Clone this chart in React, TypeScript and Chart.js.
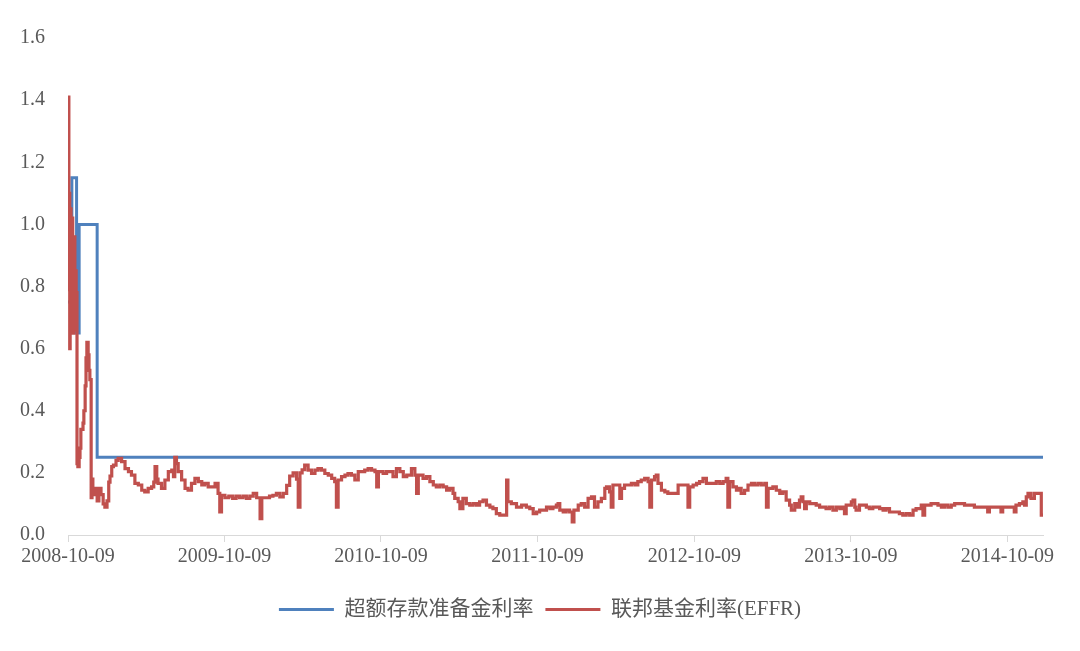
import { useEffect, useRef } from 'react';
import { Chart, registerables } from 'chart.js';
import type { Scale } from 'chart.js';

Chart.register(...registerables);

const axisFont  = "'Liberation Serif', 'Noto Sans CJK SC', serif";
const textColor = '#595959';
const axisColor = '#d9d9d9';
const blue      = '#4F81BD';
const red       = '#C0504D';

// x is counted in days from 2008-10-09
const lastDay     = 2274;
const xTickDays   = [0, 365, 730, 1095, 1461, 1826, 2191];
const xTickLabels = ['2008-10-09', '2009-10-09', '2010-10-09', '2011-10-09', '2012-10-09', '2013-10-09', '2014-10-09'];

const seriesNames = ['超额存款准备金利率', '联邦基金利率(EFFR)'];

const ioerDays  = [0, 9, 20, 26, 68, 2274];
const ioerRates = [0.75, 1.15, 0.65, 1.0, 0.25, 0.25];

// [day, rate]
const effrPoints: [number, number][] = [
  [0, 0.79], [1, 1.41], [2, 0.8], [3, 1.1], [4, 0.6], [5, 0.95], [6, 1.05], [7, 0.7], [8, 0.96], [9, 0.8],
  [10, 1.02], [11, 0.65], [13, 0.9], [14, 0.72], [15, 0.96], [16, 0.68], [18, 0.85], [19, 0.66], [20, 0.78],
  [21, 0.23], [23, 0.22], [26, 0.25], [28, 0.28], [30, 0.34], [35, 0.36], [37, 0.4], [40, 0.48], [42, 0.57],
  [44, 0.62], [47, 0.58], [49, 0.53], [51, 0.5], [54, 0.12], [56, 0.18], [58, 0.13], [63, 0.15], [68, 0.11],
  [72, 0.15], [77, 0.13], [82, 0.1], [86, 0.09], [91, 0.11], [95, 0.17], [98, 0.19], [102, 0.22], [106, 0.225],
  [112, 0.24], [117, 0.247], [125, 0.236], [133, 0.214], [141, 0.204], [148, 0.193], [156, 0.166], [164, 0.161],
  [172, 0.144], [179, 0.139], [187, 0.15], [195, 0.155], [200, 0.17], [203, 0.22], [207, 0.18], [210, 0.166],
  [218, 0.15], [226, 0.177], [234, 0.204], [242, 0.209], [246, 0.188], [249, 0.25], [253, 0.23], [257, 0.204],
  [265, 0.177], [273, 0.15], [280, 0.144], [288, 0.166], [296, 0.182], [304, 0.172], [312, 0.161], [319, 0.166],
  [327, 0.155], [335, 0.155], [343, 0.166], [350, 0.134], [354, 0.074], [358, 0.128], [366, 0.12], [375, 0.125],
  [384, 0.118], [392, 0.125], [400, 0.12], [408, 0.125], [416, 0.118], [424, 0.125], [432, 0.134], [440, 0.12],
  [448, 0.053], [452, 0.12], [463, 0.12], [470, 0.125], [478, 0.128], [486, 0.134], [494, 0.123], [502, 0.134],
  [510, 0.16], [517, 0.19], [525, 0.2], [533, 0.18], [537, 0.09], [541, 0.2], [546, 0.21], [552, 0.225],
  [560, 0.209], [568, 0.198], [576, 0.209], [583, 0.214], [591, 0.209], [599, 0.198], [607, 0.193], [615, 0.182],
  [622, 0.172], [626, 0.09], [630, 0.177], [638, 0.188], [646, 0.193], [653, 0.198], [661, 0.193], [669, 0.177],
  [677, 0.204], [685, 0.204], [692, 0.209], [700, 0.214], [708, 0.209], [716, 0.204], [720, 0.155], [724, 0.204],
  [735, 0.198], [743, 0.204], [751, 0.204], [758, 0.188], [766, 0.214], [774, 0.204], [782, 0.188], [790, 0.193],
  [801, 0.214], [809, 0.193], [813, 0.134], [817, 0.193], [828, 0.182], [836, 0.188], [844, 0.172], [852, 0.161],
  [859, 0.155], [867, 0.161], [875, 0.155], [883, 0.144], [890, 0.15], [898, 0.134], [902, 0.118], [910, 0.107],
  [914, 0.085], [921, 0.118], [929, 0.101], [937, 0.096], [945, 0.101], [953, 0.096], [960, 0.107], [968, 0.112],
  [976, 0.096], [984, 0.09], [991, 0.085], [999, 0.069], [1007, 0.064], [1015, 0.064], [1023, 0.177], [1026, 0.107],
  [1034, 0.101], [1046, 0.09], [1058, 0.096], [1069, 0.09], [1077, 0.085], [1085, 0.069], [1093, 0.074], [1100, 0.08],
  [1108, 0.08], [1116, 0.09], [1124, 0.085], [1131, 0.09], [1139, 0.096], [1143, 0.101], [1147, 0.08], [1155, 0.074],
  [1162, 0.08], [1170, 0.074], [1176, 0.042], [1180, 0.08], [1190, 0.096], [1197, 0.101], [1205, 0.09], [1213, 0.118],
  [1221, 0.123], [1228, 0.09], [1236, 0.107], [1244, 0.118], [1252, 0.15], [1256, 0.155], [1263, 0.139], [1267, 0.09],
  [1271, 0.161], [1283, 0.161], [1287, 0.118], [1291, 0.15], [1298, 0.161], [1306, 0.161], [1314, 0.166], [1322, 0.161],
  [1329, 0.172], [1337, 0.177], [1345, 0.182], [1353, 0.172], [1357, 0.09], [1361, 0.177], [1368, 0.188], [1372, 0.193],
  [1376, 0.166], [1384, 0.144], [1392, 0.139], [1399, 0.134], [1407, 0.134], [1415, 0.134], [1423, 0.161], [1430, 0.161],
  [1438, 0.161], [1446, 0.09], [1450, 0.155], [1458, 0.161], [1466, 0.166], [1473, 0.172], [1481, 0.182], [1489, 0.166],
  [1497, 0.166], [1504, 0.166], [1512, 0.172], [1520, 0.166], [1528, 0.172], [1535, 0.182], [1539, 0.09], [1543, 0.172],
  [1551, 0.155], [1559, 0.144], [1566, 0.15], [1570, 0.134], [1578, 0.144], [1586, 0.161], [1594, 0.166], [1601, 0.161],
  [1609, 0.166], [1617, 0.161], [1625, 0.166], [1629, 0.09], [1633, 0.15], [1644, 0.155], [1652, 0.144], [1660, 0.134],
  [1667, 0.139], [1675, 0.112], [1683, 0.096], [1687, 0.08], [1695, 0.101], [1699, 0.09], [1706, 0.112], [1710, 0.123],
  [1714, 0.107], [1718, 0.085], [1722, 0.107], [1730, 0.101], [1737, 0.101], [1745, 0.096], [1753, 0.09], [1761, 0.09],
  [1768, 0.085], [1776, 0.09], [1784, 0.08], [1792, 0.09], [1800, 0.085], [1807, 0.09], [1811, 0.069], [1815, 0.096],
  [1827, 0.107], [1831, 0.112], [1835, 0.09], [1838, 0.08], [1846, 0.096], [1854, 0.096], [1862, 0.09], [1869, 0.085],
  [1877, 0.09], [1885, 0.09], [1893, 0.085], [1901, 0.08], [1908, 0.085], [1916, 0.074], [1924, 0.074], [1932, 0.074],
  [1939, 0.069], [1947, 0.064], [1955, 0.069], [1963, 0.064], [1971, 0.08], [1978, 0.085], [1986, 0.085], [1990, 0.096],
  [1994, 0.064], [1998, 0.096], [2005, 0.096], [2013, 0.101], [2021, 0.101], [2029, 0.096], [2037, 0.09], [2044, 0.096],
  [2052, 0.09], [2060, 0.096], [2068, 0.101], [2076, 0.101], [2083, 0.101], [2091, 0.096], [2099, 0.096], [2107, 0.096],
  [2114, 0.09], [2122, 0.09], [2130, 0.09], [2138, 0.09], [2145, 0.074], [2149, 0.09], [2161, 0.09], [2169, 0.09],
  [2176, 0.074], [2180, 0.09], [2188, 0.09], [2196, 0.09], [2204, 0.09], [2207, 0.074], [2211, 0.096], [2219, 0.101],
  [2227, 0.107], [2231, 0.096], [2235, 0.123], [2239, 0.134], [2246, 0.118], [2254, 0.134], [2262, 0.134], [2266, 0.134],
  [2270, 0.064], [2274, 0.064],
];

export default function App() {
  const ref = useRef<HTMLCanvasElement>(null);

  useEffect(() => {
    if (!ref.current) return;

    const chart = new Chart(ref.current, {
      type: 'line',
      data: {
        datasets: [
          {
            label:           seriesNames[0],
            data:            ioerDays.map((d, i) => ({ x: d, y: ioerRates[i] })),
            borderColor:     blue,
            backgroundColor: blue,
            borderWidth:     3,
            pointRadius:     0,
            stepped:         true,
            order:           1,
          },
          {
            label:           seriesNames[1],
            data:            effrPoints.map(([d, r]) => ({ x: d, y: r })),
            borderColor:     red,
            backgroundColor: red,
            borderWidth:     3.2,
            pointRadius:     0,
            stepped:         true,
            order:           0,
          },
        ],
      },
      options: {
        animation: false,
        responsive: true,
        maintainAspectRatio: false,
        layout: { padding: { top: 38, right: 0, bottom: 21, left: 0 } },
        plugins: {
          tooltip: { enabled: false },
          legend: {
            position: 'bottom',
            labels: {
              boxWidth:  55,
              boxHeight: 3,
              padding:   12,
              color:     textColor,
              font:      { family: axisFont, size: 21 },
              sort:      (a, b) => (a.datasetIndex ?? 0) - (b.datasetIndex ?? 0),
              generateLabels: (c) =>
                Chart.defaults.plugins.legend.labels.generateLabels(c).map((l) => ({ ...l, lineWidth: 0 })),
            },
          },
        },
        scales: {
          x: {
            type: 'linear',
            min: 0,
            max: lastDay,
            afterBuildTicks: (s: Scale) => { s.ticks = xTickDays.map((v) => ({ value: v })); },
            afterFit: (s: Scale) => { s.height = 52; },
            grid:   { display: true, drawOnChartArea: false, drawTicks: true, tickLength: 7, color: axisColor },
            border: { display: true, color: axisColor, width: 1 },
            ticks: {
              autoSkip: false,
              maxRotation: 0,
              padding: 3,
              color: textColor,
              font: { family: axisFont, size: 20 },
              callback: (_v, i) => xTickLabels[i] ?? '',
            },
          },
          y: {
            min: 0,
            max: 1.6,
            afterFit: (s: Scale) => { s.width = 68; },
            grid:   { display: false },
            border: { display: false },
            ticks: {
              stepSize: 0.2,
              padding: 15,
              color: textColor,
              font: { family: axisFont, size: 20 },
              callback: (v) => Number(v).toFixed(1),
            },
          },
          // empty right-hand spacer so the legend stays centred on the whole canvas
          yRight: {
            position: 'right',
            min: 0,
            max: 1.6,
            afterFit: (s: Scale) => { s.width = 37; },
            grid:   { display: false },
            border: { display: false },
            ticks:  { display: false },
          },
        },
      },
    });
    return () => chart.destroy();
  }, []);

  return (
    <div style={{ position: 'absolute', left: 0, top: 0, width: 1080, height: 651, background: '#fff' }}>
      <canvas ref={ref} />
    </div>
  );
}
